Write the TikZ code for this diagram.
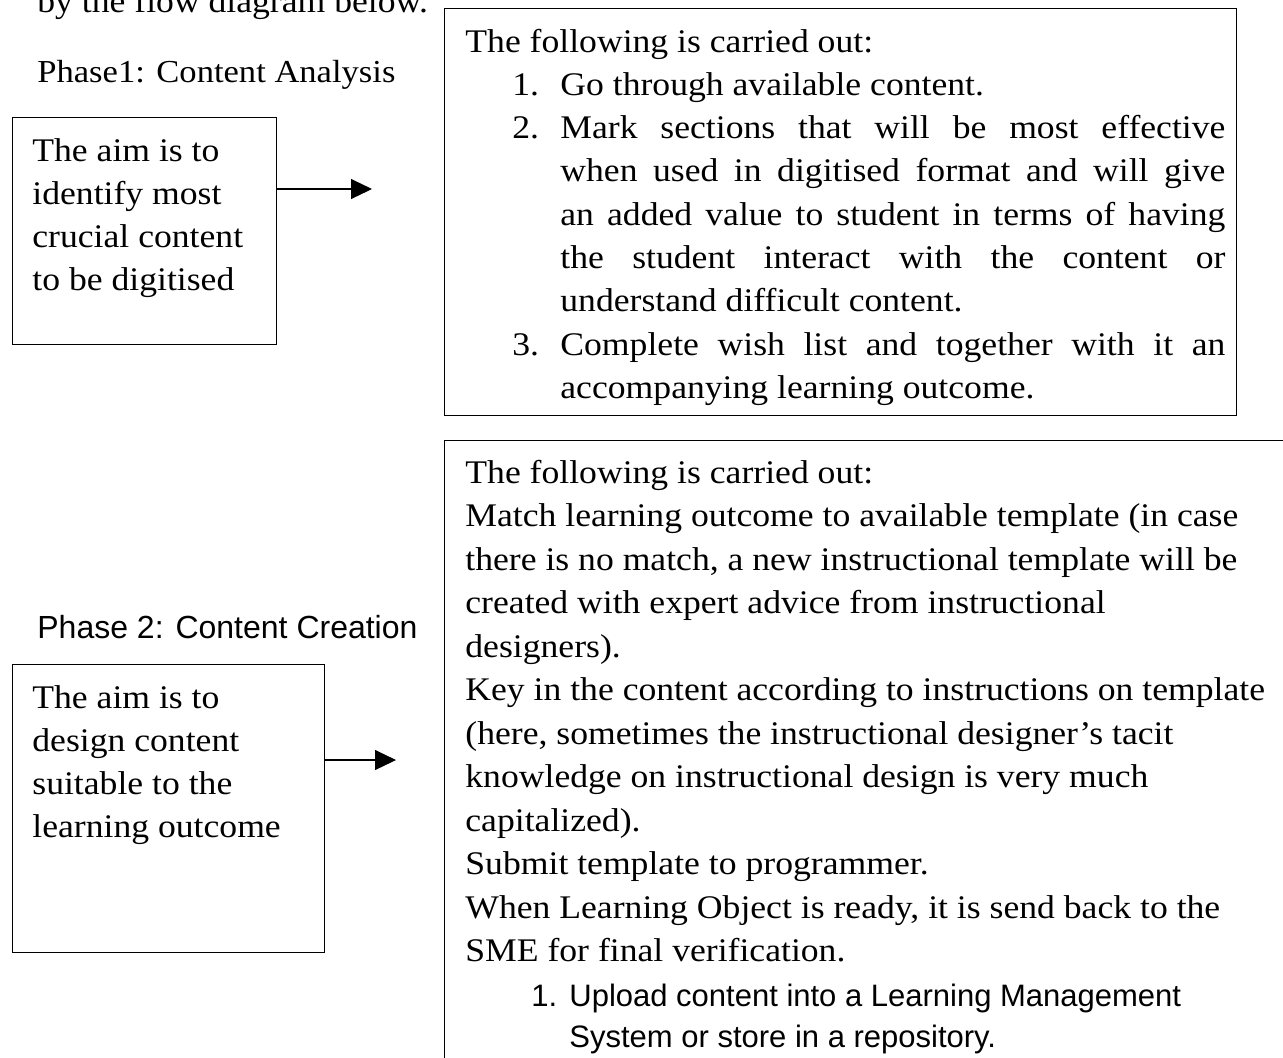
\documentclass[tikz,border=0pt]{standalone}
\usepackage{fontspec}
\setmainfont{Liberation Serif}[FakeStretch=1.08]
\setsansfont{Liberation Sans}
\usetikzlibrary{arrows.meta}

\begin{document}
\begin{tikzpicture}[x=0.5pt,y=-0.5pt,
  frame/.style={draw, line width=0.7pt, inner sep=0pt, anchor=north west},
  txt/.style={anchor=base west, inner sep=0pt, font=\fontsize{16.5pt}{21.65pt}\selectfont},
  headtxt/.style={anchor=base west, inner sep=0pt, font=\fontsize{16pt}{20pt}\selectfont},
  sanstxt/.style={anchor=base west, inner sep=0pt, font=\sffamily\fontsize{15.5pt}{20.5pt}\selectfont},
  flow/.style={-{Triangle[length=10.5pt,width=10pt]}, line width=0.55pt}]
\useasboundingbox (0,0) rectangle (1283,1057);
\clip (0,0) rectangle (1283,1057);

% running text above the diagram
\node[txt] (intro) at (37,12) {by the flow diagram below.};

% ---------- Phase 1 ----------
\node[headtxt] (ph1) at (37,82) {Phase1: Content Analysis};
\node[frame, minimum width=132pt, minimum height=113.5pt] (aim1) at (12,117) {};
\node[txt] (aim1txt) at (32,161) {\parbox[t]{120pt}{\raggedright
  The aim is to\\
  identify most\\
  crucial content\\
  to be digitised}};

\node[frame, minimum width=396pt, minimum height=203.75pt] (steps1) at (444,7.5) {};
\node[txt] (steps1txt) at (465,52) {\parbox[t]{390pt}{\raggedright
  The following is carried out:\\
  \hspace*{23.5pt}\makebox[24pt][l]{1.}Go through available content.\\
  \hspace*{23.5pt}\makebox[24pt][l]{2.}\makebox[332.5pt][s]{Mark sections that will be most effective}\\
  \hspace*{47.5pt}\makebox[332.5pt][s]{when used in digitised format and will give}\\
  \hspace*{47.5pt}\makebox[332.5pt][s]{an added value to student in terms of having}\\
  \hspace*{47.5pt}\makebox[332.5pt][s]{the student interact with the content or}\\
  \hspace*{47.5pt}understand difficult content.\\
  \hspace*{23.5pt}\makebox[24pt][l]{3.}\makebox[332.5pt][s]{Complete wish list and together with it an}\\
  \hspace*{47.5pt}accompanying learning outcome.}};

\coordinate (tip1) at (372,189);
\draw[flow] (tip1 -| aim1.east) -- (tip1);

% ---------- Phase 2 ----------
\node[anchor=base west, inner sep=0pt, font=\sffamily\fontsize{16pt}{20pt}\selectfont] (ph2) at (37,638) {Phase 2: Content Creation};
\node[frame, minimum width=156pt, minimum height=144pt] (aim2) at (12,664) {};
\node[txt] (aim2txt) at (32,708) {\parbox[t]{140pt}{\raggedright
  The aim is to\\
  design content\\
  suitable to the\\
  learning outcome}};

\node[frame, minimum width=500pt, minimum height=350pt] (steps2) at (444,440) {};
\node[txt, font=\fontsize{16.5pt}{21.75pt}\selectfont] (steps2txt) at (465,483) {\parbox[t]{420pt}{\raggedright
  The following is carried out:\\
  Match learning outcome to available template (in case\\
  there is no match, a new instructional template will be\\
  created with expert advice from instructional\\
  designers).\\
  Key in the content according to instructions on template\\
  (here, sometimes the instructional designer’s tacit\\
  knowledge on instructional design is very much\\
  capitalized).\\
  Submit template to programmer.\\
  When Learning Object is ready, it is send back to the\\
  SME for final verification.}};
\node[sanstxt] (steps2list) at (531,1006) {\parbox[t]{380pt}{\raggedright
  \makebox[19pt][l]{1.}Upload content into a Learning Management\\
  \hspace*{19pt}System or store in a repository.}};

\coordinate (tip2) at (396,760);
\draw[flow] (tip2 -| aim2.east) -- (tip2);
\end{tikzpicture}
\end{document}
